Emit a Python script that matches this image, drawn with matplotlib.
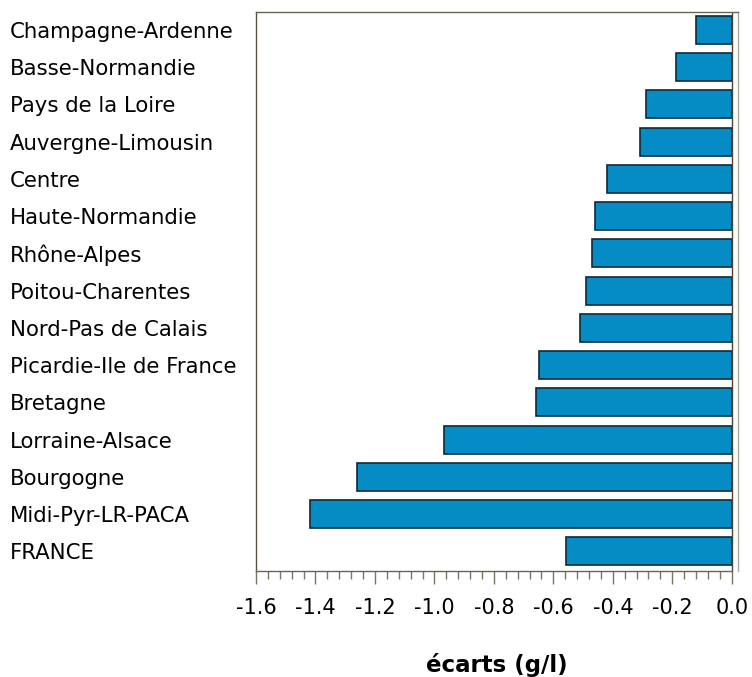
import matplotlib
matplotlib.use("Agg")
import matplotlib.pyplot as plt
from matplotlib.ticker import MultipleLocator

plt.rcParams['font.family'] = ['DejaVu Sans']

regions = ["Champagne-Ardenne", "Basse-Normandie", "Pays de la Loire",
           "Auvergne-Limousin", "Centre", "Haute-Normandie", "Rhône-Alpes",
           "Poitou-Charentes", "Nord-Pas de Calais", "Picardie-Ile de France",
           "Bretagne", "Lorraine-Alsace", "Bourgogne", "Midi-Pyr-LR-PACA",
           "FRANCE"]
ecarts = [-0.120, -0.189, -0.289, -0.310, -0.419, -0.459, -0.470,
          -0.490, -0.509, -0.649, -0.660, -0.969, -1.259, -1.419, -0.559]
xticks = [-1.6, -1.4, -1.2, -1.0, -0.8, -0.6, -0.4, -0.2, 0.0]

fig = plt.figure(figsize=(7.52, 6.77), dpi=100)
ax = fig.add_axes([256 / 752, 106.3 / 677, (738 - 256) / 752, (570.7 - 12) / 677])

ypos = list(range(len(regions)))
ax.barh(ypos, ecarts, height=0.75, color="#068cc4", edgecolor="#0e2a38", linewidth=1.2)
ax.axvline(0, color="#4a463e", linewidth=1)

ax.set_xlim(-1.6, 0.021)
ax.set_ylim(len(regions) - 0.5 + 0.02, -0.48)

# noms des régions alignés à gauche
ax.set_yticks(ypos)
ax.set_yticklabels(regions, fontsize=15.3)
ax.tick_params(axis="y", length=0, pad=177)
for lab in ax.get_yticklabels():
    lab.set_horizontalalignment("left")

ax.set_xticks(xticks)
ax.set_xticklabels([f"{v:.1f}" for v in xticks], fontsize=15)
ax.xaxis.set_minor_locator(MultipleLocator(0.04))
ax.tick_params(axis="x", which="major", length=9.5, width=1, color="#7a7466", pad=10)
ax.tick_params(axis="x", which="minor", length=5.5, width=1, color="#7a7466")

ax.spines["left"].set_color("#5a5448")
ax.spines["top"].set_color("#6a6458")
ax.spines["bottom"].set_color("#6a6458")
ax.spines["right"].set_color("#aaa69e")
ax.spines["bottom"].set_bounds(-1.6, 0.0)
for s in ax.spines.values():
    s.set_linewidth(1)

ax.set_xlabel("écarts (g/l)", fontsize=16.5, fontweight="bold", labelpad=25)

fig.savefig("out.png", dpi=100)
